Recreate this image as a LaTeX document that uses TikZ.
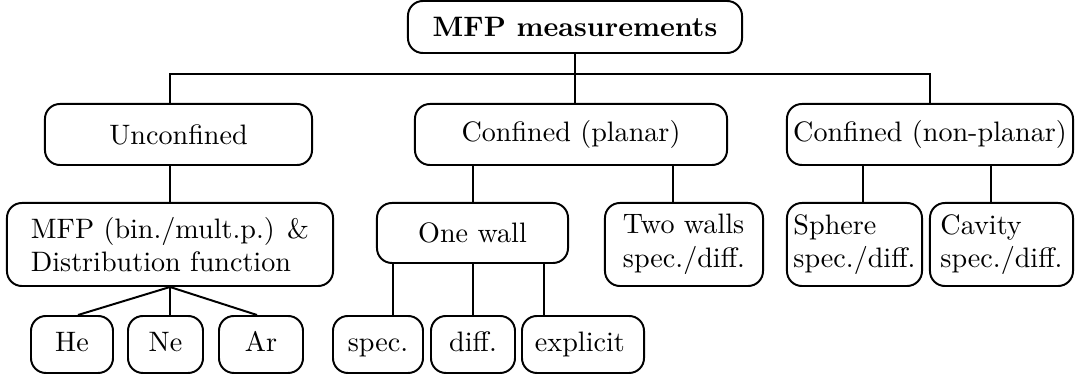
\documentclass[tikz,border=0pt]{standalone}
\usepackage{tikz}
\usepackage{amsmath}

\begin{document}
\begin{tikzpicture}[x=0.0125cm,y=-0.0125cm,line width=0.7pt]
 	\tikzstyle{every node}+=[inner sep=0pt]
 	\tikzstyle{blk}=[draw, rounded corners=5.3pt, align=left, minimum height=0.7625cm]
 	\tikzstyle{tall}=[blk, minimum height=1.0375cm]
 	\tikzstyle{leaf}=[blk, minimum height=0.7125cm, text height=1.6ex, text depth=0.4ex]
 	\useasboundingbox (0,0) rectangle (1086,374);
 	% top level
 	\node [blk, minimum height=0.65cm, minimum width=4.175cm] (mfp) at (575,27) {\textbf{MFP measurements}};
 	\node [blk, minimum width=3.3375cm] (uncon) at (178.5,134.5) {Unconfined};
 	\node [blk, minimum width=3.9cm] (planar) at (571,134.5) {Confined (planar)};
 	\node [blk, minimum width=3.575cm] (nonpl) at (930,134.5) {Confined (non-planar)};
 	% second level
 	\node [tall, minimum width=4.075cm] (dist) at (170,244.5) {MFP (bin./mult.p.) \&\\Distribution function};
 	\node [blk, minimum width=2.3875cm, minimum height=0.75cm] (wall1) at (472.5,233) {One wall};
 	\node [tall, minimum width=1.975cm] (wall2) at (684,244.5) {Two walls\\spec./diff.};
 	\node [tall, minimum width=1.6875cm] (sphere) at (854.5,244.5) {Sphere\\spec./diff.};
 	\node [tall, minimum width=1.7875cm] (cavity) at (1001.5,244.5) {Cavity\\spec./diff.};
 	% third level
 	\node [leaf, minimum width=1.025cm] (he) at (72,344.5) {He};
 	\node [leaf, minimum width=0.9375cm] (ne) at (165.5,344.5) {Ne};
 	\node [leaf, minimum width=1.05cm] (ar) at (261,344.5) {Ar};
 	\node [leaf, minimum width=1.125cm] (spec) at (378,344.5) {spec.};
 	\node [leaf, minimum width=1.05cm] (diff) at (473,344.5) {diff.};
 	\node [leaf, minimum width=1.525cm, text width=1.2cm, inner xsep=0.1cm] (expl) at (583,344.5) {explicit};
 	% connectors
 	\coordinate (bus) at (575,74);
 	\draw (mfp.south) -- (bus);
 	\draw (uncon.north -| dist.north) |- (bus) -| (nonpl.north);
 	\draw (bus) -- (bus |- planar.north);
 	\draw (uncon.south -| dist.north) -- (dist.north);
 	\draw (dist.south) -- (he.north -| 78,0);
 	\draw (dist.south) -- (dist.south |- ne.north);
 	\draw (dist.south) -- (ar.north -| 257,0);
 	\draw (planar.south -| diff.north) -- (wall1.north -| diff.north);
 	\draw (planar.south -| 673,0) -- (wall2.north -| 673,0);
 	\draw (wall1.south -| 393,0) -- (spec.north -| 393,0);
 	\draw (wall1.south -| diff.north) -- (diff.north);
 	\draw (wall1.south -| 544,0) -- (expl.north -| 544,0);
 	\draw (nonpl.south -| 863,0) -- (sphere.north -| 863,0);
 	\draw (nonpl.south -| 991,0) -- (cavity.north -| 991,0);
\end{tikzpicture}
\end{document}
